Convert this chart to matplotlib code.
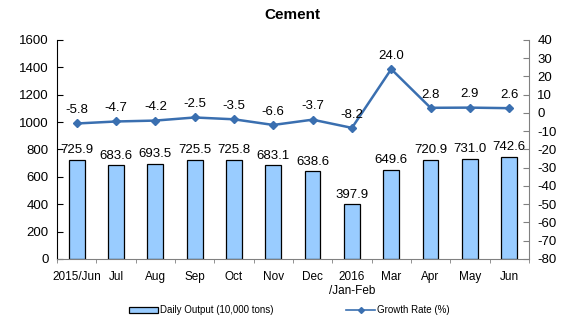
import matplotlib
matplotlib.use("Agg")
import matplotlib.pyplot as plt
from matplotlib.lines import Line2D
from matplotlib.patches import Patch

plt.rcParams['font.family'] = ['Liberation Sans', 'DejaVu Sans']
plt.rcParams['axes.unicode_minus'] = False

categories = ["2015/Jun", "Jul", "Aug", "Sep", "Oct", "Nov", "Dec",
              "2016\n/Jan-Feb", "Mar", "Apr", "May", "Jun"]
daily_output = [725.9, 683.6, 693.5, 725.5, 725.8, 683.1, 638.6,
                397.9, 649.6, 720.9, 731.0, 742.6]
growth_rate = [-5.8, -4.7, -4.2, -2.5, -3.5, -6.6, -3.7,
               -8.2, 24.0, 2.8, 2.9, 2.6]
left_ticks = [0, 200, 400, 600, 800, 1000, 1200, 1400, 1600]
right_ticks = list(range(-80, 41, 10))

bar_color = "#99CCFF"
line_color = "#3A6FB0"

fig = plt.figure(figsize=(5.73, 3.22), dpi=100)
ax = fig.add_axes([0.0995, 0.196, 0.8235, 0.68])
x = list(range(len(categories)))

ax.bar(x, daily_output, width=0.4, color=bar_color, edgecolor="black", linewidth=0.9, zorder=2)
ax.set_xlim(-0.5, len(categories) - 0.5)
ax.set_ylim(0, 1600)
ax.set_yticks(left_ticks)
ax.tick_params(axis='y', direction='in', length=4, labelsize=9.5, pad=6)
ax.set_xticks(x)
ax.set_xticklabels(categories, fontsize=8.5)
ax.tick_params(axis='x', length=0, pad=9)
# category separators on the baseline
ax.set_xticks([i + 0.5 for i in range(-1, len(categories))], minor=True)
ax.tick_params(axis='x', which='minor', direction='out', length=3, color="#808080")
ax.spines['top'].set_visible(False)
ax.spines['right'].set_visible(False)
ax.spines['bottom'].set_color("#808080")
ax.spines['left'].set_color("black")

for xi, v in zip(x, daily_output):
    ax.text(xi, v + 28, f"{v:.1f}", ha='center', va='bottom', fontsize=9.5)

ax2 = ax.twinx()
ax2.plot(x, growth_rate, color=line_color, linewidth=1.8, marker='D', markersize=4.5, zorder=3)
ax2.set_ylim(-80, 40)
ax2.set_yticks(right_ticks)
ax2.tick_params(axis='y', direction='in', length=4, labelsize=9.5, pad=6, color="#808080")
for s in ['top', 'left', 'bottom']:
    ax2.spines[s].set_visible(False)
ax2.spines['right'].set_color("#808080")

for xi, v in zip(x, growth_rate):
    ax2.text(xi, v + 4, f"{v:.1f}", ha='center', va='bottom', fontsize=9.5)

fig.text(0.51, 0.952, "Cement", ha='center', va='center', fontsize=11, fontweight='bold')

handles = [Patch(facecolor=bar_color, edgecolor="black", linewidth=0.9),
           Line2D([0], [0], color=line_color, linewidth=1.2, marker='D', markersize=3)]
fig.legend(handles, ["Daily Output (10,000 tons)", "Growth Rate (%)"],
           loc='center', bbox_to_anchor=(0.505, 0.037), ncol=2, frameon=False,
           fontsize=7, handlelength=3.0, handleheight=0.6, handletextpad=0.2,
           columnspacing=7.5)

fig.savefig("out.png", dpi=100)
